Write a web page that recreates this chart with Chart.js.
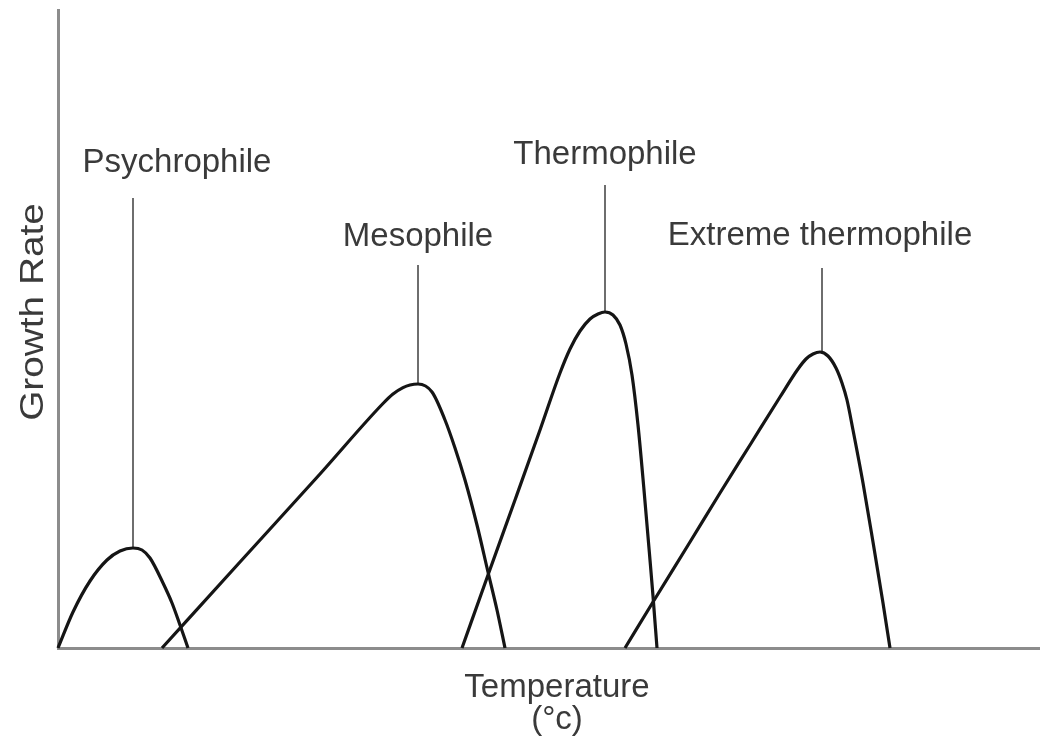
<!DOCTYPE html>
<html>
<head>
<meta charset="utf-8">
<title>Growth rate vs temperature</title>
<script src="https://cdn.jsdelivr.net/npm/chart.js@4.4.1/dist/chart.umd.min.js"></script>
<style>
  html, body { margin: 0; padding: 0; background: #ffffff; }
  #wrap { width: 1040px; height: 746px; }
</style>
</head>
<body>
<div id="wrap"><canvas id="growthChart" width="1040" height="746"></canvas></div>
<script>
// Values (arbitrary units, temperature along x, growth rate along y)
const psychroX = [0, 15, 32, 49, 62, 75, 84, 92, 105, 114, 122, 130];
const psychroY = [0, 36, 67, 88, 97, 100, 98, 90, 65, 45, 23, 0];

const mesoX = [104, 182, 262, 325, 335, 345, 352, 360, 374, 387, 397, 407, 419, 430, 439, 447];
const mesoY = [0, 86, 174, 244.5, 254, 260.4, 263, 264, 256, 228, 200, 168, 123, 76, 38, 0];

const thermoX = [404, 430, 457, 482, 502, 512, 522, 532, 540, 547, 555, 562, 568, 574, 580, 586, 592, 595, 599];
const thermoY = [0, 73, 148, 218, 275, 299, 317, 329, 334, 336, 333, 323, 304, 273, 223, 158, 88, 52, 0];

const extremeX = [567, 595, 632, 662, 692, 722, 740, 748, 755, 762, 770, 778, 784, 789, 795, 805, 815, 825, 832];
const extremeY = [0, 46, 106, 155, 203, 251, 279, 289, 294, 296, 292, 280, 265, 248, 218, 165, 106, 45, 0];

// Label lines: x position, bottom (peak) and top of each leader line
const groupNames = ['Psychrophile', 'Mesophile', 'Thermophile', 'Extreme thermophile'];
const leaderX = [75, 360, 547, 764];
const leaderBottom = [100, 264, 336, 296];
const leaderTop = [450, 383, 463, 380];

const xMax = 982;
const yMax = 638;

const colores = {
  curva: '#151515',
  eje: '#8c8c8c',
  guia: '#6e6e6e',
  texto: '#3a3a3a'
};

function toPoints(xs, ys) {
  return xs.map((x, i) => ({ x: x, y: ys[i] }));
}

const curveSets = [
  [psychroX, psychroY],
  [mesoX, mesoY],
  [thermoX, thermoY],
  [extremeX, extremeY]
].map(([xs, ys], i) => ({
  label: groupNames[i],
  data: toPoints(xs, ys),
  showLine: true,
  borderColor: colores.curva,
  borderWidth: 3.2,
  pointRadius: 0,
  cubicInterpolationMode: 'monotone',
  fill: false,
  clip: false,
  order: 1
}));

const leaderSets = leaderX.map((x, i) => ({
  label: groupNames[i] + ' line',
  data: [{ x: x, y: leaderBottom[i] }, { x: x, y: leaderTop[i] }],
  showLine: true,
  borderColor: colores.guia,
  borderWidth: 2,
  pointRadius: 0,
  fill: false,
  clip: false,
  order: 2
}));

// Texts: group labels above the leader lines and the axis titles
const textPlugin = {
  id: 'textosGrafico',
  afterDraw(chart) {
    const ctx = chart.ctx;
    const xs = chart.scales.x;
    const ys = chart.scales.y;
    const area = chart.chartArea;
    ctx.save();
    ctx.fillStyle = colores.texto;
    ctx.font = '33px "Liberation Sans", Arial, sans-serif';
    ctx.textAlign = 'center';
    ctx.textBaseline = 'middle';

    const shiftX = [44, 0, 0, -2];
    const shiftY = [35, 28, 30, 32];
    groupNames.forEach((name, i) => {
      const px = xs.getPixelForValue(leaderX[i]) + shiftX[i];
      const py = ys.getPixelForValue(leaderTop[i]) - shiftY[i];
      ctx.fillText(name, px, py);
    });

    // x axis title
    ctx.fillText('Temperature', 557, area.bottom + 40);
    ctx.fillText('(°c)', 557, area.bottom + 72);

    // y axis title (slightly stretched along its length, as in the picture)
    ctx.translate(34, 312);
    ctx.rotate(-Math.PI / 2);
    ctx.scale(1.14, 1);
    ctx.font = '34px "Liberation Sans", Arial, sans-serif';
    ctx.fillText('Growth Rate', 0, 0);
    ctx.restore();
  }
};

document.addEventListener('DOMContentLoaded', () => {
  const canvas = document.getElementById('growthChart');
  const ctx = canvas.getContext('2d');

  new Chart(ctx, {
    type: 'scatter',
    data: { datasets: curveSets.concat(leaderSets) },
    options: {
      responsive: false,
      animation: false,
      devicePixelRatio: 1,
      layout: { padding: { left: 58, right: 0, top: 10, bottom: 98 } },
      plugins: {
        legend: { display: false },
        tooltip: { enabled: false }
      },
      scales: {
        x: {
          type: 'linear',
          min: 0,
          max: xMax,
          grid: { display: false },
          ticks: { display: false },
          border: { display: true, color: colores.eje, width: 3 },
          afterFit(scale) { scale.height = 0; }
        },
        y: {
          type: 'linear',
          min: 0,
          max: yMax,
          grid: { display: false },
          ticks: { display: false },
          border: { display: true, color: colores.eje, width: 3 },
          afterFit(scale) { scale.width = 0; }
        }
      }
    },
    plugins: [textPlugin]
  });
});
</script>
</body>
</html>
